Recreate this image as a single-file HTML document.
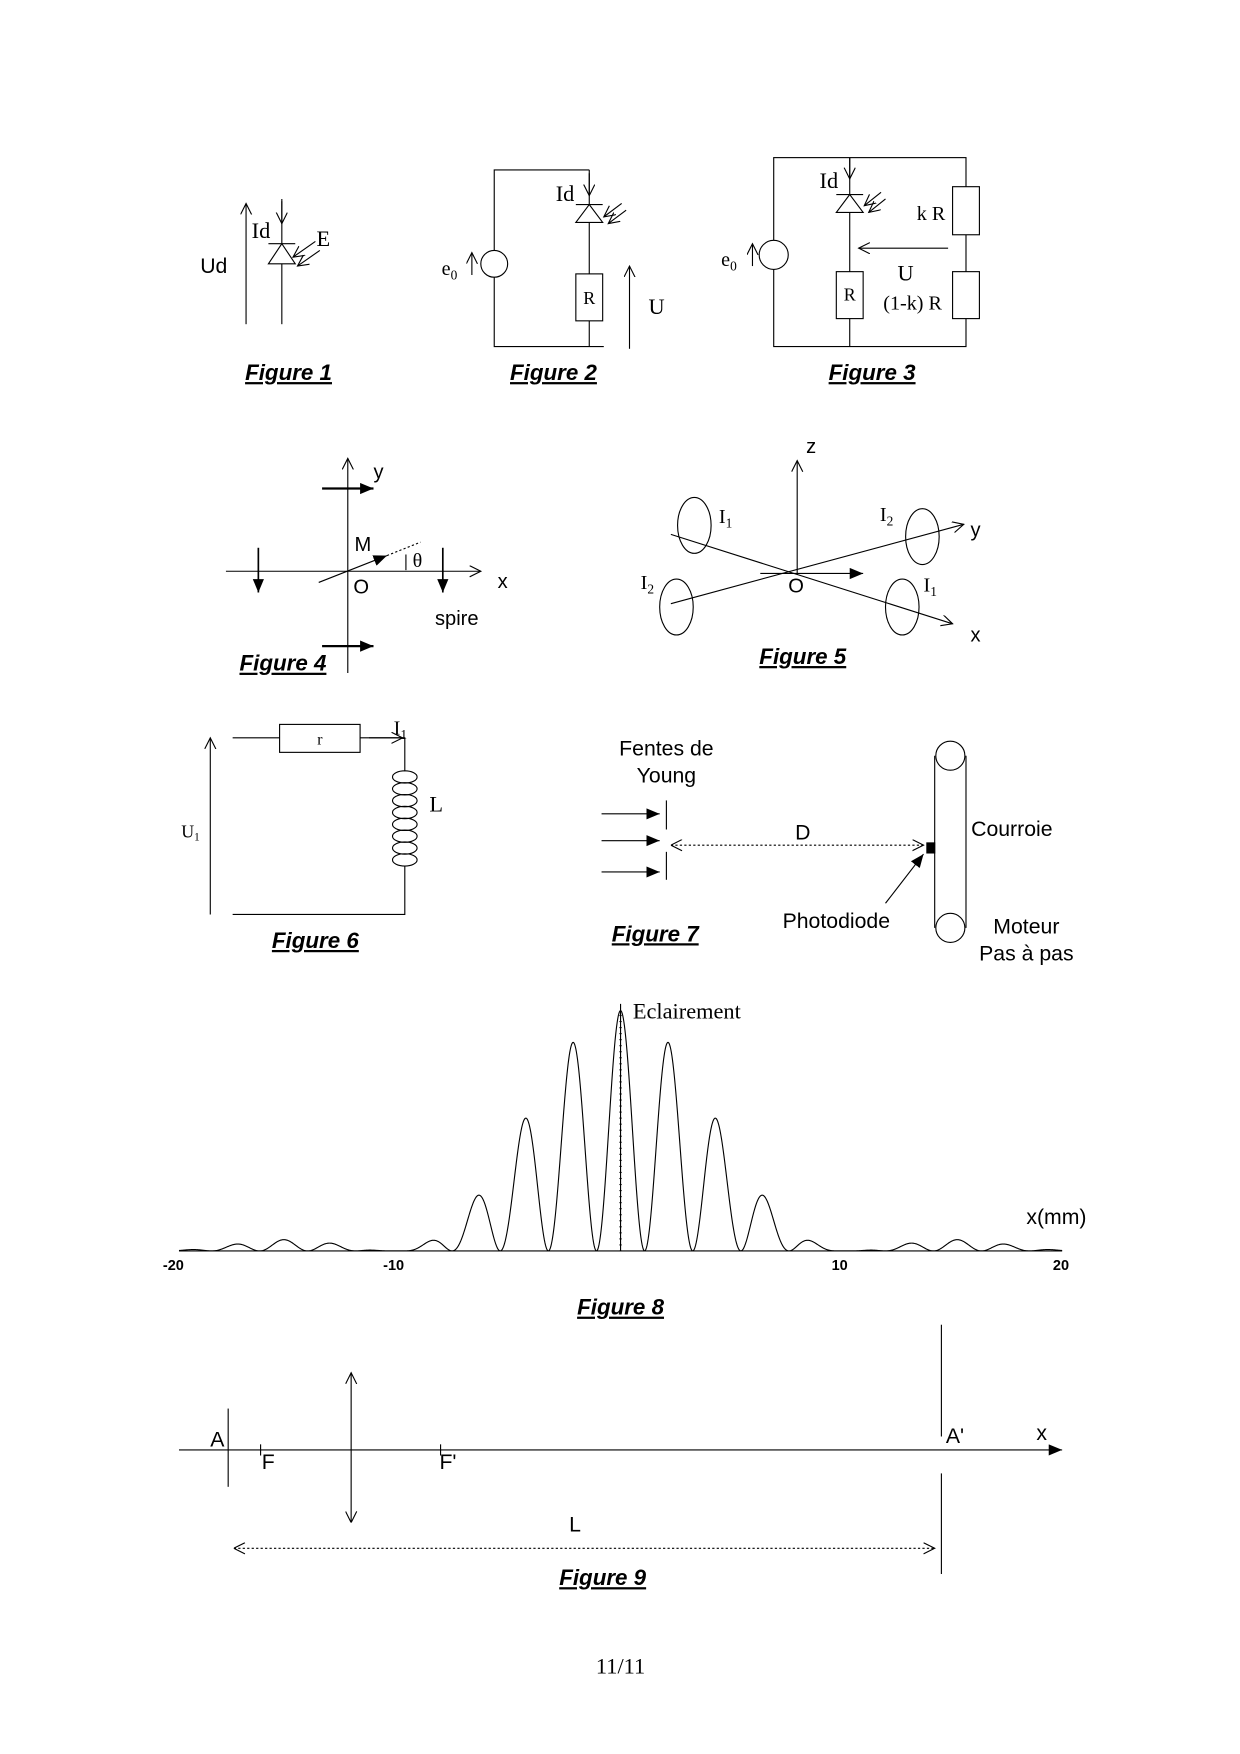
<!DOCTYPE html>
<html><head><meta charset="utf-8"><style>
html,body{margin:0;padding:0;background:#fff}
svg{display:block}
.s{font-family:"Liberation Sans",sans-serif}
.r{font-family:"Liberation Serif",serif}
.f{font-family:"Liberation Sans",sans-serif;font-weight:bold;font-style:italic;font-size:20px;text-decoration:underline}
</style></head><body>
<svg width="1240" height="1754" viewBox="0 0 1109 1569" xmlns="http://www.w3.org/2000/svg" stroke="#000" fill="none" stroke-width="1">
<defs>
<marker id="o" markerWidth="12" markerHeight="12" refX="10" refY="5" orient="auto" markerUnits="userSpaceOnUse"><path d="M0,0 L10,5 L0,10" fill="none" stroke="#000"/></marker>
<marker id="os" markerWidth="12" markerHeight="12" refX="0" refY="5" orient="auto" markerUnits="userSpaceOnUse"><path d="M10,0 L0,5 L10,10" fill="none" stroke="#000"/></marker>
<marker id="fa" markerWidth="14" markerHeight="12" refX="12" refY="5" orient="auto" markerUnits="userSpaceOnUse"><path d="M0,0 L12,5 L0,10Z" fill="#000" stroke="none"/></marker>
</defs>
<g fill="#000" stroke="none">
<text class="f" x="258" y="340" text-anchor="middle">Figure 1</text>
<text class="f" x="495" y="340" text-anchor="middle">Figure 2</text>
<text class="f" x="780" y="340" text-anchor="middle">Figure 3</text>
<text class="f" x="253" y="600" text-anchor="middle">Figure 4</text>
<text class="f" x="718" y="594" text-anchor="middle">Figure 5</text>
<text class="f" x="282" y="848" text-anchor="middle">Figure 6</text>
<text class="f" x="586" y="842" text-anchor="middle">Figure 7</text>
<text class="f" x="555" y="1176" text-anchor="middle">Figure 8</text>
<text class="f" x="539" y="1418" text-anchor="middle">Figure 9</text>
</g>
<!-- Fig1 -->
<line x1="220" y1="290" x2="220" y2="182" marker-end="url(#o)"/>
<text class="s" x="179" y="244" font-size="19" fill="#000" stroke="none">Ud</text>
<line x1="252" y1="178" x2="252" y2="290"/>
<line x1="252" y1="180" x2="252" y2="200" marker-end="url(#o)"/>
<text class="r" x="225" y="213" font-size="20" fill="#000" stroke="none">Id</text>
<line x1="240" y1="218" x2="264" y2="218"/>
<path d="M252,218 L240,236 L264,236Z" fill="#fff"/>
<line x1="282" y1="216" x2="262" y2="230" marker-end="url(#o)"/>
<line x1="286" y1="224" x2="266" y2="238" marker-end="url(#o)"/>
<text class="r" x="283" y="220" font-size="20" fill="#000" stroke="none">E</text>
<!-- Fig2 -->
<path d="M527,152 L442,152 L442,310 L540,310"/>
<line x1="527" y1="152" x2="527" y2="310"/>
<circle cx="442" cy="236" r="12" fill="#fff"/>
<line x1="422" y1="246" x2="422" y2="226" marker-end="url(#o)"/>
<text class="r" x="395" y="246" font-size="18" fill="#000" stroke="none">e<tspan font-size="12" dy="4">0</tspan></text>
<line x1="527" y1="155" x2="527" y2="175" marker-end="url(#o)"/>
<text class="r" x="497" y="180" font-size="20" fill="#000" stroke="none">Id</text>
<line x1="515" y1="183" x2="539" y2="183"/>
<path d="M527,183 L515,199 L539,199Z" fill="#fff"/>
<line x1="556" y1="182" x2="540" y2="194" marker-end="url(#o)"/>
<line x1="560" y1="188" x2="544" y2="200" marker-end="url(#o)"/>
<rect x="515" y="245" width="24" height="42" fill="#fff"/>
<text class="r" x="527" y="272" font-size="16" text-anchor="middle" fill="#000" stroke="none">R</text>
<line x1="563" y1="312" x2="563" y2="238" marker-end="url(#o)"/>
<text class="r" x="580" y="281" font-size="20" fill="#000" stroke="none">U</text>
<!-- Fig3 -->
<rect x="692" y="141" width="172" height="169"/>
<line x1="760" y1="141" x2="760" y2="310"/>
<circle cx="692" cy="228" r="13" fill="#fff"/>
<line x1="673" y1="238" x2="673" y2="218" marker-end="url(#o)"/>
<text class="r" x="645" y="238" font-size="18" fill="#000" stroke="none">e<tspan font-size="12" dy="4">0</tspan></text>
<line x1="760" y1="141" x2="760" y2="160" marker-end="url(#o)"/>
<text class="r" x="733" y="168" font-size="20" fill="#000" stroke="none">Id</text>
<line x1="748" y1="174" x2="772" y2="174"/>
<path d="M760,174 L748,190 L772,190Z" fill="#fff"/>
<line x1="788" y1="172" x2="773" y2="184" marker-end="url(#o)"/>
<line x1="792" y1="178" x2="777" y2="190" marker-end="url(#o)"/>
<rect x="748" y="243" width="24" height="42" fill="#fff"/>
<text class="r" x="760" y="269" font-size="16" text-anchor="middle" fill="#000" stroke="none">R</text>
<rect x="852" y="167" width="24" height="43" fill="#fff"/>
<rect x="852" y="243" width="24" height="42" fill="#fff"/>
<line x1="848" y1="222" x2="768" y2="222" marker-end="url(#o)"/>
<text class="r" x="810" y="251" font-size="20" text-anchor="middle" fill="#000" stroke="none">U</text>
<text class="r" x="820" y="197" font-size="18" fill="#000" stroke="none">k R</text>
<text class="r" x="790" y="277" font-size="18" fill="#000" stroke="none">(1-k) R</text>
<!-- Fig4 -->
<line x1="311" y1="602" x2="311" y2="410" marker-end="url(#o)"/>
<line x1="202" y1="511" x2="430" y2="511" marker-end="url(#o)"/>
<g class="s" font-size="18" fill="#000" stroke="none">
<text x="334" y="428">y</text><text x="445" y="526">x</text><text x="316" y="531">O</text><text x="317" y="493">M</text><text x="389" y="559">spire</text>
<text x="369" y="507" class="r">θ</text>
</g>
<line x1="285" y1="521" x2="346" y2="497" marker-end="url(#fa)"/>
<line x1="346" y1="497" x2="376" y2="485" stroke-dasharray="2,2"/>
<path d="M363,496 L363,510" />
<line x1="231" y1="490" x2="231" y2="530" marker-end="url(#fa)" stroke-width="1.5"/>
<line x1="396" y1="490" x2="396" y2="530" marker-end="url(#fa)" stroke-width="1.5"/>
<line x1="288" y1="437" x2="334" y2="437" marker-end="url(#fa)" stroke-width="2"/>
<line x1="288" y1="578" x2="334" y2="578" marker-end="url(#fa)" stroke-width="2"/>
<!-- Fig5 -->
<line x1="713" y1="514" x2="713" y2="412" marker-end="url(#o)"/>
<line x1="600" y1="478" x2="852" y2="558" marker-end="url(#o)"/>
<line x1="600" y1="540" x2="862" y2="469" marker-end="url(#o)"/>
<line x1="680" y1="513" x2="772" y2="513" marker-end="url(#fa)"/>
<g class="s" font-size="18" fill="#000" stroke="none">
<text x="721" y="405">z</text><text x="868" y="480">y</text><text x="868" y="574">x</text><text x="705" y="530">O</text>
</g>
<g class="r" font-size="18" fill="#000" stroke="none">
<text x="643" y="468">I<tspan font-size="12" dy="4">1</tspan></text>
<text x="787" y="466">I<tspan font-size="12" dy="4">2</tspan></text>
<text x="573" y="527">I<tspan font-size="12" dy="4">2</tspan></text>
<text x="826" y="529">I<tspan font-size="12" dy="4">1</tspan></text>
</g>
<ellipse cx="621" cy="470" rx="15" ry="25"/>
<ellipse cx="825" cy="480" rx="15" ry="25"/>
<ellipse cx="605" cy="543" rx="15" ry="25"/>
<ellipse cx="807" cy="543" rx="15" ry="25"/>
<!-- Fig6 -->
<line x1="188" y1="818" x2="188" y2="660" marker-end="url(#o)"/>
<text class="r" x="162" y="749" font-size="16" fill="#000" stroke="none">U<tspan font-size="10" dy="3">1</tspan></text>
<path d="M208,660 L362,660 L362,690 M362,775 L362,818 L208,818"/>
<line x1="330" y1="660" x2="360" y2="660" marker-end="url(#o)"/>
<rect x="250" y="648" width="72" height="25" fill="#fff"/>
<text class="r" x="286" y="666" font-size="14" text-anchor="middle" fill="#000" stroke="none">r</text>
<text class="r" x="352" y="657" font-size="18" fill="#000" stroke="none">I<tspan font-size="12" dy="4">1</tspan></text>
<g id="coil"></g>
<text class="r" x="384" y="726" font-size="20" fill="#000" stroke="none">L</text>
<!-- Fig7 -->
<g class="s" font-size="19" fill="#000" stroke="none" text-anchor="middle">
<text x="596" y="676">Fentes de</text><text x="596" y="700">Young</text>
<text x="718" y="751">D</text><text x="905" y="748">Courroie</text><text x="748" y="830">Photodiode</text>
<text x="918" y="835">Moteur</text><text x="918" y="859">Pas à pas</text>
</g>
<line x1="596" y1="716" x2="596" y2="742"/><line x1="596" y1="762" x2="596" y2="787"/>
<line x1="538" y1="728" x2="590" y2="728" marker-end="url(#fa)"/>
<line x1="538" y1="752" x2="590" y2="752" marker-end="url(#fa)"/>
<line x1="538" y1="780" x2="590" y2="780" marker-end="url(#fa)"/>
<line x1="600" y1="756" x2="826" y2="756" stroke-dasharray="2,2" marker-start="url(#os)" marker-end="url(#o)"/>
<rect x="829" y="754" width="7" height="9" fill="#000"/>
<line x1="792" y1="808" x2="826" y2="764" marker-end="url(#fa)"/>
<circle cx="850" cy="676" r="13"/><circle cx="850" cy="830" r="13"/>
<line x1="836" y1="676" x2="836" y2="830"/><line x1="864" y1="676" x2="864" y2="830"/>
<!-- Fig8 -->
<line x1="160" y1="1119" x2="950" y2="1119"/>
<line x1="555" y1="1119" x2="555" y2="898"/>
<path id="curve" d=""/>
<g id="ticks"></g>
<g class="s" font-size="13" font-weight="bold" fill="#000" stroke="none" text-anchor="middle">
<text x="155" y="1136">-20</text><text x="352" y="1136">-10</text><text x="751" y="1136">10</text><text x="949" y="1136">20</text>
</g>
<text class="r" x="566" y="911" font-size="20" fill="#000" stroke="none">Eclairement</text>
<text class="s" x="918" y="1095" font-size="19" fill="#000" stroke="none">x(mm)</text>
<!-- Fig9 -->
<line x1="160" y1="1297" x2="950" y2="1297" marker-end="url(#fa)"/>
<line x1="204" y1="1260" x2="204" y2="1330"/>
<line x1="233" y1="1292" x2="233" y2="1302"/><line x1="394" y1="1292" x2="394" y2="1302"/>
<line x1="314" y1="1362" x2="314" y2="1228" marker-end="url(#o)" marker-start="url(#os)"/>
<line x1="842" y1="1185" x2="842" y2="1285"/><line x1="842" y1="1318" x2="842" y2="1408"/>
<line x1="209" y1="1385" x2="836" y2="1385" stroke-dasharray="2,2" marker-start="url(#os)" marker-end="url(#o)"/>
<g class="s" font-size="19" fill="#000" stroke="none">
<text x="188" y="1294">A</text><text x="234" y="1314">F</text><text x="393" y="1314">F'</text>
<text x="846" y="1291">A'</text><text x="927" y="1288">x</text><text x="509" y="1370">L</text>
</g>
<text class="r" x="555" y="1497" font-size="20" text-anchor="middle" fill="#000" stroke="none">11/11</text>
</svg>
<script>
(function(){
var d="",first=true;
for(var i=0;i<=1600;i++){var x=-20+i*40/1600;var u=Math.PI*x/10.5;var env=Math.abs(u)<1e-9?1:Math.pow(Math.sin(u)/u,2);
var c=Math.pow(Math.cos(Math.PI*x/2.18),2);var y=1119-215*env*c;var px=555+x*19.75;
d+=(first?"M":"L")+px.toFixed(2)+","+y.toFixed(2)+" ";first=false;}
document.getElementById("curve").setAttribute("d",d);
var t="";for(var k=0;k<40;k++){var yy=1119-k*5.4;t+='<line x1="554" y1="'+yy+'" x2="556" y2="'+yy+'"/>';}
document.getElementById("ticks").innerHTML=t;
var c2="";for(var j=0;j<8;j++){var cy=695+j*10.6;c2+='<ellipse cx="362" cy="'+cy+'" rx="11" ry="5.5"/>';}
document.getElementById("coil").innerHTML=c2;
})();
</script>
</body></html>
